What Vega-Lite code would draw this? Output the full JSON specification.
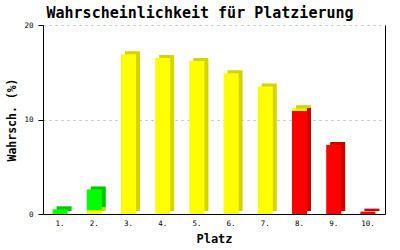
{
  "$schema": "https://vega.github.io/schema/vega-lite/v6.json",
  "autosize": {"type": "none"},
  "width": 342,
  "height": 189,
  "padding": {"left": 43, "top": 25, "right": 15, "bottom": 36},
  "background": "white",
  "config": {
    "view": {"stroke": null},
    "font": "DejaVu Sans Mono",
    "axis": {"labelFont": "DejaVu Sans Mono", "titleFont": "DejaVu Sans Mono", "labelColor": "black", "titleColor": "black", "domainColor": "black", "tickColor": "black"}
  },
  "title": {"text": "Wahrscheinlichkeit für Platzierung", "font": "DejaVu Sans Mono", "fontSize": 15, "fontWeight": "bold", "color": "black", "anchor": "middle", "offset": 0, "dx": -14},
  "data": {"values": [
    {"platz": "1.", "cat": "g", "seg": 1, "p": 0.5},
    {"platz": "2.", "cat": "y", "seg": 1, "p": 0.4},
    {"platz": "2.", "cat": "g", "seg": 2, "p": 2.2},
    {"platz": "3.", "cat": "y", "seg": 1, "p": 16.9},
    {"platz": "4.", "cat": "y", "seg": 1, "p": 16.5},
    {"platz": "5.", "cat": "y", "seg": 1, "p": 16.2},
    {"platz": "6.", "cat": "y", "seg": 1, "p": 14.9},
    {"platz": "7.", "cat": "y", "seg": 1, "p": 13.5},
    {"platz": "8.", "cat": "r", "seg": 1, "p": 10.9},
    {"platz": "8.", "cat": "y", "seg": 2, "p": 0.3},
    {"platz": "9.", "cat": "r", "seg": 1, "p": 7.3},
    {"platz": "10.", "cat": "r", "seg": 1, "p": 0.25}
  ]},
  "encoding": {
    "x": {"field": "platz", "type": "ordinal", "sort": null,
          "scale": {"paddingInner": 0, "paddingOuter": 0},
          "axis": {"title": "Platz", "labelAngle": 0, "labelFontSize": 7.5, "ticks": false, "labelPadding": 5, "titleFontSize": 12, "titleFontWeight": "bold", "titlePadding": 7, "domainWidth": 1}},
    "order": {"field": "seg", "type": "quantitative"}
  },
  "layer": [
    {
      "mark": {"type": "bar", "size": 15, "xOffset": 4, "yOffset": -3},
      "encoding": {
        "y": {"field": "p", "type": "quantitative", "stack": "zero",
              "scale": {"domain": [0, 20], "nice": false},
              "axis": {"title": "Wahrsch. (%)", "values": [0, 10, 20], "labelFontSize": 7.5, "tickSize": 5, "labelPadding": 5,
                       "gridDash": [2, 4], "gridColor": "#bbbbbb", "gridWidth": 1,
                       "titleFontSize": 11.5, "titleFontWeight": "bold", "titleAngle": 270, "titleAlign": "center", "titleBaseline": "middle", "titleX": -30.5}},
        "color": {"field": "cat", "type": "nominal", "legend": null,
                  "scale": {"domain": ["g", "y", "r"], "range": ["#00c800", "#d4d400", "#cc0000"]}}
      }
    },
    {
      "mark": {"type": "bar", "size": 15},
      "encoding": {
        "y": {"field": "p", "type": "quantitative", "stack": "zero",
              "axis": {"orient": "right", "title": null, "labels": false, "ticks": false, "grid": false, "values": [0, 10, 20]}},
        "color": {"field": "cat", "type": "nominal", "legend": null,
                  "scale": {"domain": ["g", "y", "r"], "range": ["#00ff00", "#ffff00", "#ff0000"]}}
      }
    }
  ],
  "resolve": {"scale": {"color": "independent"}, "axis": {"y": "independent"}}
}
